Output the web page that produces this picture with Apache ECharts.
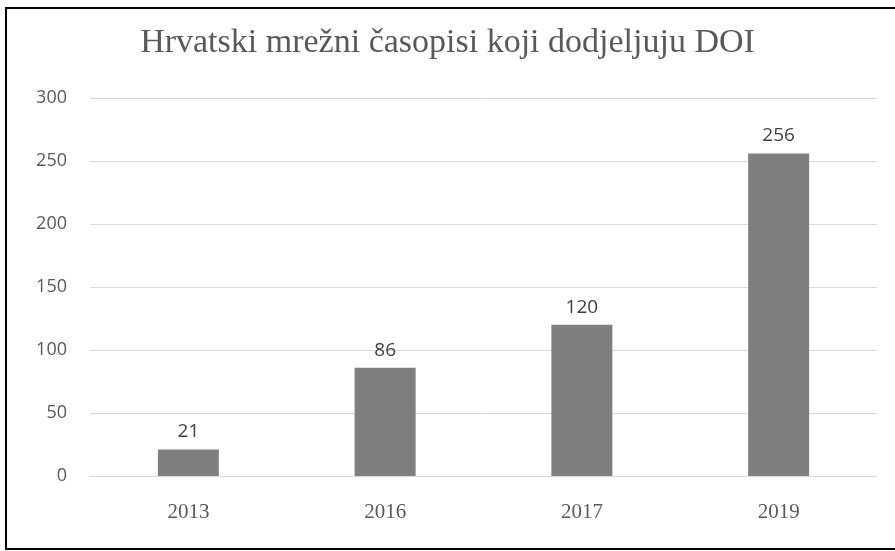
<!DOCTYPE html>
<html>
<head>
<meta charset="utf-8">
<script src="https://cdn.jsdelivr.net/npm/echarts@6/dist/echarts.min.js"></script>
<style>
  html, body { margin: 0; padding: 0; background: #fff; }
  #chart { width: 895px; height: 551px; }
</style>
</head>
<body>
<div id="chart"></div>
<script>
  // podaci
  let titleText = 'Hrvatski mrežni časopisi koji dodjeljuju DOI'
  let years = ['2013', '2016', '2017', '2019']
  let journals = [21, 86, 120, 256]

  let chart = echarts.init(document.getElementById('chart'))
  let option = {
    backgroundColor: '#fff',
    animation: false,
    title: {
      text: titleText,
      left: 'center',
      top: 21,
      textStyle: {
        fontFamily: 'Liberation Serif',
        fontWeight: 'normal',
        fontSize: 34,
        color: '#595959'
      }
    },
    graphic: [
      {
        type: 'rect',
        shape: { x: 6, y: 8, width: 900, height: 541 },
        style: { fill: 'none', stroke: '#000', lineWidth: 2 },
        silent: true
      }
    ],
    grid: {
      left: 90,
      right: 18,
      top: 98,
      bottom: 75
    },
    xAxis: {
      type: 'category',
      data: years,
      axisTick: { show: false },
      axisLine: { lineStyle: { color: '#d9d9d9', width: 1 } },
      axisLabel: {
        margin: 26,
        fontFamily: 'Liberation Serif',
        fontSize: 21,
        color: '#595959'
      }
    },
    yAxis: {
      type: 'value',
      min: 0,
      max: 300,
      interval: 50,
      axisLine: { show: false },
      axisTick: { show: false },
      splitLine: { lineStyle: { color: '#d9d9d9', width: 1 } },
      axisLabel: {
        margin: 23,
        fontFamily: 'Open Sans',
        fontSize: 18,
        color: '#595959'
      }
    },
    series: [
      {
        type: 'bar',
        data: journals,
        barWidth: '31%',
        itemStyle: { color: '#7f7f7f' },
        label: {
          show: true,
          position: 'top',
          distance: 8,
          fontFamily: 'Open Sans',
          fontSize: 19,
          color: '#404040'
        }
      }
    ]
  }
  chart.setOption(option)
</script>
</body>
</html>
